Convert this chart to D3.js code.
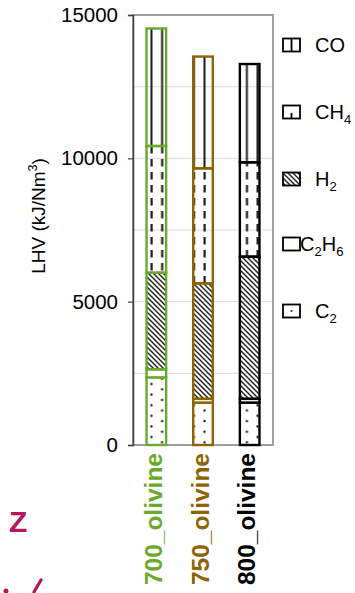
<!DOCTYPE html>
<html><head><meta charset="utf-8">
<script src="https://cdn.jsdelivr.net/npm/d3@7"></script>
<style>
html,body{margin:0;padding:0;background:#fff;}
text{font-family:"Liberation Sans",Arial,sans-serif;}
</style></head>
<body>
<svg id="chart" width="355" height="593"></svg>
<script>
const categories = ["700_olivine", "750_olivine", "800_olivine"];
const seriesNames = ["C2", "C2H6", "H2", "CH4", "CO"];
const C2   = [2360, 1480, 1480];
const C2H6 = [280, 130, 130];
const H2   = [3370, 4030, 4960];
const CH4  = [4420, 4010, 3290];
const CO   = [4100, 3900, 3430];
const yTicks = [0, 5000, 10000, 15000];
const gridTicks = [2500, 5000, 7500, 10000, 12500, 15000];
const barColors = ["#6aaa2a", "#8c6400", "#000000"];
const legendOrder = ["CO", "CH4", "H2", "C2H6", "C2"];

const svg = d3.select("#chart");
const M = {left: 133, right: 273, top: 15, bottom: 445};

const x = d3.scaleBand().domain(categories).range([M.left, M.right]).paddingInner(0.58).paddingOuter(0.29);
const y = d3.scaleLinear().domain([0, 15000]).range([M.bottom, M.top]);

// patterns
const defs = svg.append("defs");
function makePatterns(suffix, ox, oy) {
  const ink = "#1e1e1e";
  let p = defs.append("pattern").attr("id", "pCO" + suffix).attr("patternUnits", "userSpaceOnUse")
    .attr("x", ox).attr("y", oy).attr("width", 10.6).attr("height", 10);
  p.append("rect").attr("x", 4.3).attr("y", 0).attr("width", 2).attr("height", 10).attr("fill", ink);
  p = defs.append("pattern").attr("id", "pCH4" + suffix).attr("patternUnits", "userSpaceOnUse")
    .attr("x", ox).attr("y", oy).attr("width", 10.6).attr("height", 13);
  p.append("rect").attr("x", 4.3).attr("y", 3).attr("width", 2.2).attr("height", 7.5).attr("fill", ink);
  p = defs.append("pattern").attr("id", "pH2" + suffix).attr("patternUnits", "userSpaceOnUse")
    .attr("x", 0).attr("y", 0).attr("width", 5).attr("height", 5);
  p.append("path").attr("d", "M-1,-1 L6,6 M-1,4 L1,6 M4,-1 L6,1").attr("stroke", ink).attr("stroke-width", 1.4);
  p = defs.append("pattern").attr("id", "pC2H6" + suffix).attr("patternUnits", "userSpaceOnUse")
    .attr("width", 10).attr("height", 10);
  p.append("rect").attr("width", 10).attr("height", 10).attr("fill", "#fff");
  p = defs.append("pattern").attr("id", "pC2" + suffix).attr("patternUnits", "userSpaceOnUse")
    .attr("x", ox).attr("y", oy).attr("width", 21.2).attr("height", 10.6);
  p.append("circle").attr("cx", 5.3).attr("cy", 2.5).attr("r", 1.2).attr("fill", ink);
  p.append("circle").attr("cx", 15.9).attr("cy", 7.8).attr("r", 1.2).attr("fill", ink);
}
makePatterns("", 146.2, 0);

// gridlines
svg.append("g").selectAll("line").data(gridTicks).join("line")
  .attr("x1", M.left).attr("x2", M.right)
  .attr("y1", d => y(d)).attr("y2", d => y(d))
  .attr("stroke", "#d9d9d9").attr("stroke-width", 1);

// plot border
svg.append("rect").attr("x", M.left).attr("y", M.top).attr("width", M.right - M.left).attr("height", M.bottom - M.top)
  .attr("fill", "none").attr("stroke", "#a0a0a0").attr("stroke-width", 2);

// stacked data
const valuesBySeries = {C2, C2H6, H2, CH4, CO};
const table = categories.map((c, i) => {
  const o = {cat: c};
  seriesNames.forEach(s => o[s] = valuesBySeries[s][i]);
  return o;
});
const stack = d3.stack().keys(seriesNames)(table);

const gBars = svg.append("g");
stack.forEach(layer => {
  gBars.append("g").selectAll("rect").data(layer).join("rect")
    .attr("x", d => x(d.data.cat))
    .attr("y", d => y(d[1]))
    .attr("width", x.bandwidth())
    .attr("height", d => y(d[0]) - y(d[1]))
    .attr("fill", "url(#p" + layer.key + ")")
    .attr("stroke", (d, i) => barColors[i])
    .attr("stroke-width", 2.4);
});

// y axis
const yAxis = d3.axisLeft(y).tickValues(yTicks).tickSize(5).tickPadding(10).tickFormat(d3.format("d"));
const gy = svg.append("g").attr("transform", `translate(${M.left},0)`).call(yAxis);
gy.select(".domain").attr("stroke", "#404040").attr("stroke-width", 1.5);
gy.selectAll(".tick line").attr("stroke", "#404040").attr("stroke-width", 1.2);
gy.selectAll("text").attr("font-size", 20.5).attr("fill", "#000")
  .style("font-family", "'Liberation Sans', Arial, sans-serif");

// y label
const yl = svg.append("text").attr("transform", `translate(45,216) rotate(-90)`)
  .attr("text-anchor", "middle").attr("font-size", 19).attr("fill", "#000");
yl.append("tspan").text("LHV (kJ/Nm");
yl.append("tspan").text("3").attr("font-size", 12.5).attr("dy", -8);
yl.append("tspan").text(")").attr("dy", 8);

// x labels
svg.append("g").selectAll("text").data(categories).join("text")
  .attr("transform", d => `translate(${x(d) + x.bandwidth() / 2 + 5.5},${M.bottom + 8}) rotate(-90)`)
  .attr("text-anchor", "end").attr("font-size", 24.5).attr("font-weight", "bold")
  .attr("fill", (d, i) => barColors[i]).text(d => d);

// legend
const legY = {CO: 45, CH4: 112, H2: 179, C2H6: 244, C2: 311};
const labels = {
  CO: [["CO", 0]],
  CH4: [["CH", 0], ["4", 1]],
  H2: [["H", 0], ["2", 1]],
  C2H6: [["C", 0], ["2", 1], ["H", 0], ["6", 1]],
  C2: [["C", 0], ["2", 1]]
};
const lg = svg.append("g");
legendOrder.forEach(k => {
  const yy = legY[k];
  makePatterns("L" + k, 282, yy - 6);
  lg.append("rect").attr("x", 283).attr("y", yy - 6.5).attr("width", 17).attr("height", 13)
    .attr("fill", k === "H2" ? "url(#pH2L" + k + ")" : "#fff").attr("stroke", "#000").attr("stroke-width", 1.8);
  if (k === "CO") lg.append("line").attr("x1", 291.5).attr("x2", 291.5).attr("y1", yy - 6).attr("y2", yy + 6).attr("stroke", "#000").attr("stroke-width", 1.8);
  if (k === "CH4") lg.append("line").attr("x1", 291.5).attr("x2", 291.5).attr("y1", yy + 1).attr("y2", yy + 6).attr("stroke", "#000").attr("stroke-width", 1.8);
  if (k === "C2") lg.append("circle").attr("cx", 291.5).attr("cy", yy).attr("r", 1.1).attr("fill", "#333");
  const t = lg.append("text").attr("x", k === "C2H6" ? 300 : 315).attr("y", yy + 7).attr("font-size", 20).attr("fill", "#000");
  labels[k].forEach(([s, sub]) => {
    t.append("tspan").text(s).attr("font-size", sub ? 13 : 20)
      .attr("baseline-shift", sub ? "-5" : null);
  });
});

// fragments of neighbouring figure
svg.append("text").attr("x", 9).attr("y", 532).attr("font-size", 30).attr("font-weight", "bold")
  .attr("fill", "#b5175e").text("Z");
svg.append("path").attr("d", "M34,592 L41,580").attr("stroke", "#b5175e").attr("stroke-width", 3.2).attr("stroke-linecap", "round");
svg.append("circle").attr("cx", 6).attr("cy", 591).attr("r", 2.5).attr("fill", "#b5175e");
</script>
</body></html>
